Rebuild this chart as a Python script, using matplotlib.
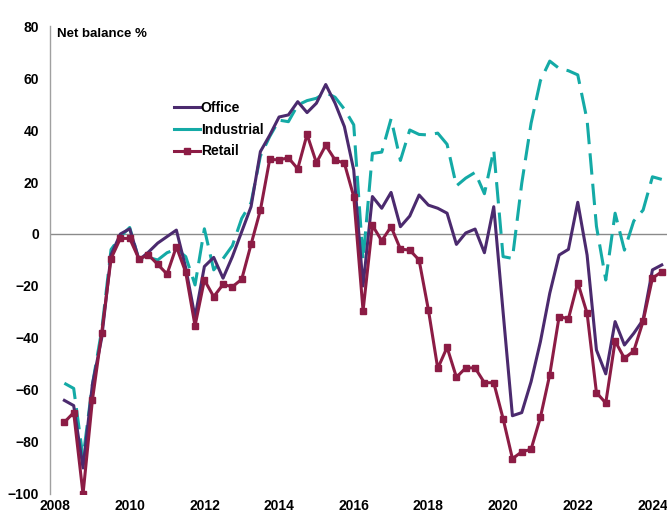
import numpy as np
import pandas as pd
import matplotlib
matplotlib.use("Agg")
import matplotlib.pyplot as plt
from matplotlib.lines import Line2D

plt.rcParams['font.family'] = ['Liberation Sans', 'DejaVu Sans']

# quarterly net balance %, 2008 Q2 .. 2024 Q2
quarters = pd.period_range('2008Q2', '2024Q2', freq='Q')

office = [-64, -66, -90, -58, -40, -8, 0, 2, -10, -7, -3.5, -1, 1.5, -13, -32, -12.5,
          -9, -17, -8.7, 0.9, 10.5, 31.7, 38, 45, 45.8, 50.9, 46.7, 50.3, 57.5, 50.3, 41.3, 24.6,
          -20, 14.4, 9.9, 16, 2.8, 6.9, 15, 11.1, 9.9, 8, -4, 0.4, 1.9, -7.2, 10.5, -30,
          -69.9, -68.7, -56.8, -41.4, -22.8, -8.1, -5.9, 12.2, -8.1, -44.6, -53.8, -33.7, -42.7, -38.2,
          -33, -13.8, -11.9]

industrial = [-57.4, -59.4, -86, -58, -37, -6, -1, 2.5, -10, -9, -10, -7.2, -5.8, -8.7, -19.6, 2,
              -13.8, -9.5, -4.5, 6, 12, 30, 37.5, 43.8, 43.2, 49.6, 51.3, 52.2, 54.4, 52.6, 48, 42,
              -10, 31, 31.5, 44.3, 28.3, 40, 38.3, 38.1, 38.8, 34.5, 18.5, 21.5, 23.7, 15.5, 32.3, -8.7,
              -9.4, 19.5, 42.6, 59, 66.5, 63.7, 62.8, 61.2, 43.8, 3, -17.7, 8, -6.2, 5,
              9.2, 22, 21]

retail = [-72.4, -68.7, -100, -64, -38, -9.5, -1.7, -1.7, -9.7, -8, -11.7, -15.4, -4.9, -14.7, -35.3, -17.7,
          -24.1, -19.4, -20.3, -17.4, -4, 9.2, 28.7, 28.5, 29.3, 25.1, 38.3, 27.4, 34.1, 28.5, 27.2, 14.4,
          -29.5, 3.3, -2.6, 2.8, -5.8, -6.2, -10, -29.2, -51.7, -43.6, -55.1, -51.5, -51.5, -57.2, -57.2, -71,
          -86.4, -83.8, -82.8, -70.5, -54.1, -31.8, -32.6, -18.7, -30.5, -61, -65, -41.2, -47.8, -45,
          -33.6, -17, -14.5]

year_ticks = list(range(2008, 2025, 2))
y_ticks = list(range(-100, 81, 20))

c_office = '#4b2a6e'
c_ind = '#14aaa6'
c_retail = '#8c1c45'

x = quarters.year + (quarters.quarter - 1) / 4

fig = plt.figure(figsize=(6.67, 5.15), dpi=100)
ax = fig.add_axes([0.075, 0.0408, 0.925, 0.9087])

ax.axhline(0, color='#8a8a8a', lw=1, zorder=1)
ax.plot(x, office, color=c_office, lw=2.2, zorder=3)
ax.plot(x, industrial, color=c_ind, lw=2.2, dashes=(7, 3), zorder=2)
ax.plot(x, retail, color=c_retail, lw=2.2, marker='s', ms=4.5, zorder=4)

ax.set_xlim(2007.866, 2024.39)
ax.set_ylim(-100, 80)
ax.set_xticks(year_ticks)
ax.set_yticks(y_ticks)
ax.tick_params(length=0, labelsize=10)
ax.tick_params(axis='y', pad=8)
ax.tick_params(axis='x', pad=3.5)
for lab in ax.get_xticklabels() + ax.get_yticklabels():
    lab.set_fontweight('bold')

for s in ['top', 'right', 'bottom']:
    ax.spines[s].set_visible(False)
ax.spines['left'].set_color('#a0a0a0')
ax.spines['left'].set_linewidth(1)

ax.text(0.012, 0.995, 'Net balance %', transform=ax.transAxes, ha='left', va='top',
        fontsize=9.5, fontweight='bold')

handles = [Line2D([], [], color=c_office, lw=2.2),
           Line2D([], [], color=c_ind, lw=2.2),
           Line2D([], [], color=c_retail, lw=2.2, marker='s', ms=4.5)]
ax.legend(handles, ['Office', 'Industrial', 'Retail'], loc='upper left',
          bbox_to_anchor=(0.18, 0.866), frameon=False, handlelength=1.9,
          handletextpad=0.05, labelspacing=0.55, prop={'weight': 'bold', 'size': 10})

fig.savefig('out.png', dpi=100)
